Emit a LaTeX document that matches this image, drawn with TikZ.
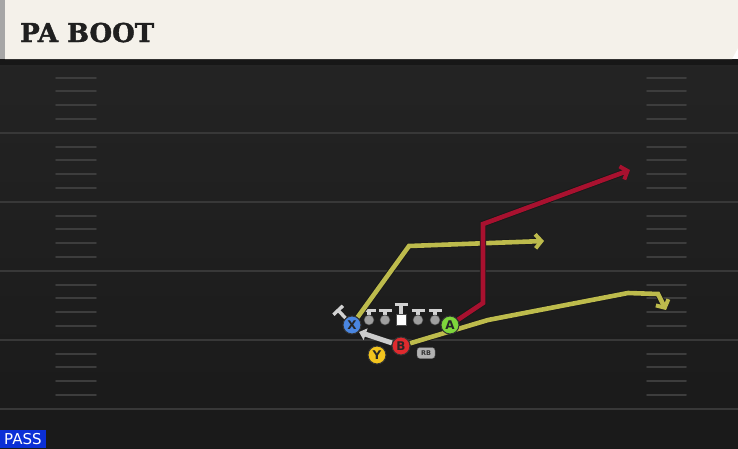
\documentclass[tikz,border=0pt]{standalone}
\usepackage{fontspec}
\setsansfont{DejaVu Sans}
\newfontfamily\titlefont[BoldFeatures={FakeBold=1.5}]{DejaVu Serif}
\usetikzlibrary{arrows.meta,positioning}
\definecolor{cream}{HTML}{F4F1EA}
\definecolor{routeyel}{HTML}{BDBB4C}
\definecolor{routered}{HTML}{A8112F}
\definecolor{passblue}{HTML}{0B2FD6}
\definecolor{xblue}{HTML}{4A86E0}
\definecolor{agreen}{HTML}{7ED63C}
\definecolor{bred}{HTML}{DE2A2E}
\definecolor{yyel}{HTML}{F2C41E}
\pgfdeclarelayer{field}
\pgfdeclarelayer{paths}
\pgfsetlayers{field,paths,main}

\begin{document}
\begin{tikzpicture}[x=1pt,y=-1pt,
  player/.style={circle,draw=black!80,line width=1pt,minimum size=18pt,inner sep=0pt,font=\sffamily\bfseries\fontsize{12}{12}\selectfont,text=black!85},
  route/.style={line width=4.6pt,line join=miter,preaction={draw=black!90,line width=6.4pt}},
  tip/.style={-{Straight Barb[length=6pt,width=14pt,line width=4pt]}},
  yard/.style={draw=white!22!black,line width=2pt},
  hash/.style={draw=white!24!black,line width=1.9pt,line cap=round},
  lman/.style={circle,fill=gray!75,draw=black!70,line width=0.5pt,minimum size=10pt,inner sep=0pt},
  block/.style={draw=gray!35,line width=3.4pt,-{Bar[width=13pt,line width=3.4pt]}}]
  \useasboundingbox (0,0) rectangle (738,448);
  % field
  \begin{pgfonlayer}{field}
  \shade[top color=black!86,bottom color=black!90] (0,59) rectangle (738,448);
  \fill[black!91] (0,59) rectangle (738,65);
  \foreach \y in {132.5,201.5,270.5,339.5,408.5}
    \draw[yard] (0,\y) -- (738,\y);
  \foreach \k in {0,...,4}
    \foreach \j in {1,...,4} {
      \draw[hash] (56,{64+69*\k+13.7*\j}) -- (96,{64+69*\k+13.7*\j});
      \draw[hash] (647,{64+69*\k+13.7*\j}) -- (686,{64+69*\k+13.7*\j});
    }
  % header
  \fill[cream] (5,0) -- (738,0) -- (738,48) -- (732,59) -- (5,59) -- cycle;
  \fill[gray!70] (0,0) rectangle (5,59);
  \end{pgfonlayer}
  \node[anchor=base west,inner sep=0pt,font=\titlefont\bfseries\fontsize{26}{26}\selectfont,text=black!88] (title) at (20,42) {PA BOOT};
  % linemen
  \foreach \x [count=\i] in {369,385,418,435} {
    \node[lman] (ol\i) at (\x,320) {};
    \coordinate (bk\i) at (\x,309);
    \begin{pgfonlayer}{paths}
    \draw[block] (ol\i) -- (bk\i);
    \end{pgfonlayer}
  }
  \node[rectangle,fill=white,draw=black!70,line width=0.5pt,minimum width=10pt,minimum height=11pt,inner sep=0pt] (c) at (401,320) {};
  \coordinate (bkc) at (401,303);
  % route corners
  \coordinate (x1) at (409,246);
  \coordinate (x2) at (544,241);
  \coordinate (a1) at (483,303);
  \coordinate (a2) at (483,224);
  \coordinate (a3) at (630,170);
  \coordinate (b1) at (488,320);
  \coordinate (b2) at (628,293);
  \coordinate (b3) at (658,294);
  \coordinate (b4) at (666,310);
  \coordinate (xb) at (337,309);
  \coordinate (fk) at (359,332);
  % players
  \node[player,fill=xblue] (X) at (352,325) {X};
  \node[player,fill=agreen] (A) at (450,325) {A};
  \node[player,fill=bred] (B) at (401,346) {B};
  \node[player,fill=yyel] (Y) at (377,355) {Y};
  \node[rounded corners=3pt,fill=gray!60,draw=black!60,line width=0.4pt,inner sep=1pt,minimum width=18pt,minimum height=11pt,font=\sffamily\bfseries\fontsize{6.5}{6.5}\selectfont,text=black!80] (RB) at (426,353) {RB};
  % routes
  \begin{pgfonlayer}{paths}
  \draw[block] (c) -- (bkc);
  \draw[route,draw=routeyel,tip] (X) -- (x1) -- (x2);
  \draw[route,draw=routered,tip] (A) -- (a1) -- (a2) -- (a3);
  \draw[route,draw=routeyel,tip] (B) -- (b1) -- (b2) -- (b3) -- (b4);
  \draw[draw=gray!40,line width=5pt,-{Triangle[length=7pt,width=12pt]}] (B) -- (fk);
  \draw[block] (X) -- (xb);
  \end{pgfonlayer}
  % tag
  \node[anchor=south west,fill=passblue,text=white,inner xsep=4pt,inner ysep=2pt,minimum height=18pt,font=\sffamily\fontsize{15}{15}\selectfont] (pass) at (0,448) {PASS};
\end{tikzpicture}
\end{document}
